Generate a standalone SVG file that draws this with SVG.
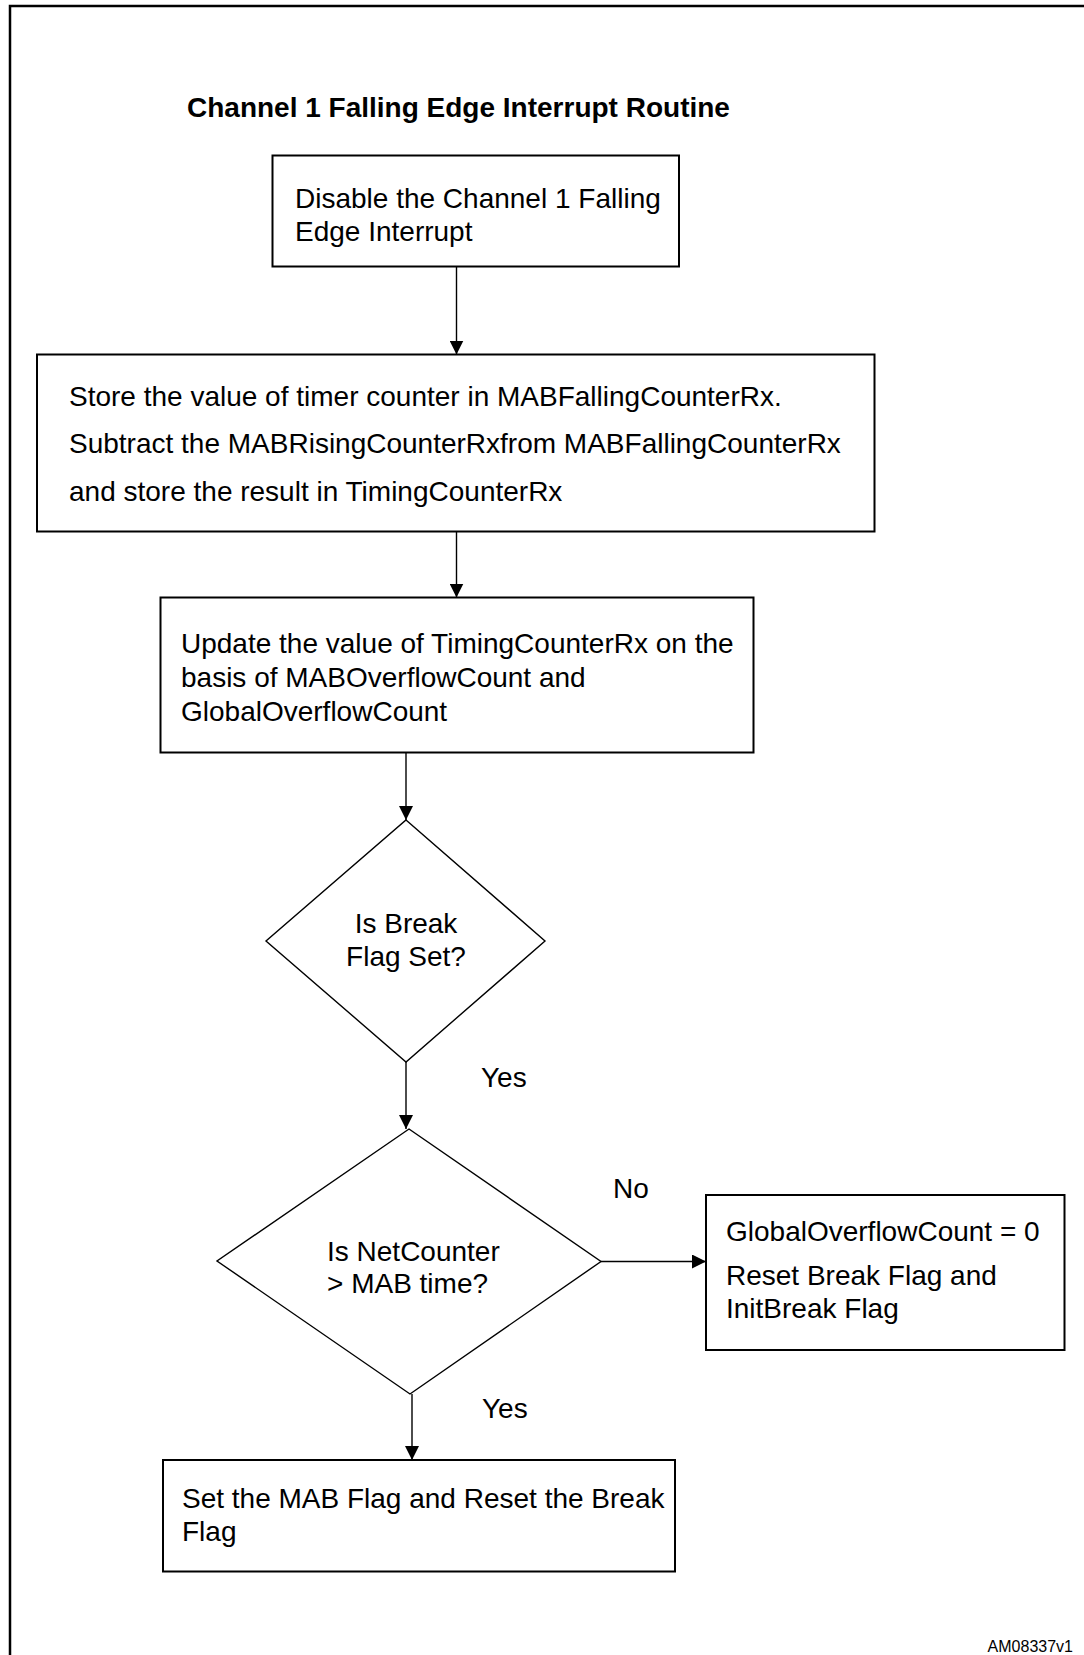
<svg xmlns="http://www.w3.org/2000/svg" width="1084" height="1655" viewBox="0 0 1084 1655">
<style>
.box{fill:#fff;stroke:#000;stroke-width:2}
.dia{fill:#fff;stroke:#000;stroke-width:1.4}
.edge{fill:none;stroke:#000;stroke-width:1.4}
text{font-family:"Liberation Sans",Arial,Helvetica,sans-serif;font-size:28px;fill:#000}
.title{font-weight:bold;font-size:28px}
.small{font-size:16px}
</style>
<defs>
<marker id="arr" markerUnits="userSpaceOnUse" markerWidth="14" markerHeight="14" viewBox="0 0 14 14" refX="14" refY="7" orient="auto">
<path d="M0,0 L14,7 L0,14 Z" fill="#000"/>
</marker>
</defs>
<rect width="1084" height="1655" fill="#fff"/>
<path d="M10,1660 L10,6 L1090,6" fill="none" stroke="#000" stroke-width="2.5"/>
<text class="title" x="187" y="117">Channel 1 Falling Edge Interrupt Routine</text>
<g id="connectors">
<line class="edge" x1="456.5" y1="266.5" x2="456.5" y2="354.5" marker-end="url(#arr)"/>
<line class="edge" x1="456.5" y1="531.5" x2="456.5" y2="597.5" marker-end="url(#arr)"/>
<line class="edge" x1="406" y1="752.5" x2="406" y2="820" marker-end="url(#arr)"/>
<line class="edge" x1="406" y1="1062" x2="406" y2="1129" marker-end="url(#arr)"/>
<line class="edge" x1="601" y1="1261.5" x2="706" y2="1261.5" marker-end="url(#arr)"/>
<line class="edge" x1="412" y1="1394" x2="412" y2="1460" marker-end="url(#arr)"/>
<text x="481" y="1087">Yes</text>
<text x="613" y="1198">No</text>
<text x="482" y="1418">Yes</text>
</g>
<g id="n1">
<rect class="box" x="272.5" y="155.5" width="406.5" height="111"/>
<text x="295" y="208">Disable the Channel 1 Falling</text>
<text x="295" y="241">Edge Interrupt</text>
</g>
<g id="n2">
<rect class="box" x="37" y="354.5" width="837.5" height="177"/>
<text x="69" y="406">Store the value of timer counter in MABFallingCounterRx.</text>
<text x="69" y="453">Subtract the MABRisingCounterRxfrom MABFallingCounterRx</text>
<text x="69" y="501">and store the result in TimingCounterRx</text>
</g>
<g id="n3">
<rect class="box" x="160.5" y="597.5" width="593" height="155"/>
<text x="181" y="653">Update the value of TimingCounterRx on the</text>
<text x="181" y="687">basis of MABOverflowCount and</text>
<text x="181" y="721">GlobalOverflowCount</text>
</g>
<g id="d1">
<polygon class="dia" points="406,820 545,941 406,1062 266,941"/>
<text x="406" y="933" text-anchor="middle">Is Break</text>
<text x="406" y="966" text-anchor="middle">Flag Set?</text>
</g>
<g id="d2">
<polygon class="dia" points="409,1129 601,1261.5 410,1394 217,1261"/>
<text x="327" y="1261">Is NetCounter</text>
<text x="327" y="1293">&gt; MAB time?</text>
</g>
<g id="n4">
<rect class="box" x="706" y="1195" width="358.5" height="155"/>
<text x="726" y="1241">GlobalOverflowCount = 0</text>
<text x="726" y="1285">Reset Break Flag and</text>
<text x="726" y="1318">InitBreak Flag</text>
</g>
<g id="n5">
<rect class="box" x="163" y="1460" width="512" height="111.5"/>
<text x="182" y="1508">Set the MAB Flag and Reset the Break</text>
<text x="182" y="1541">Flag</text>
</g>
<text class="small" x="1073" y="1652" text-anchor="end">AM08337v1</text>
</svg>
